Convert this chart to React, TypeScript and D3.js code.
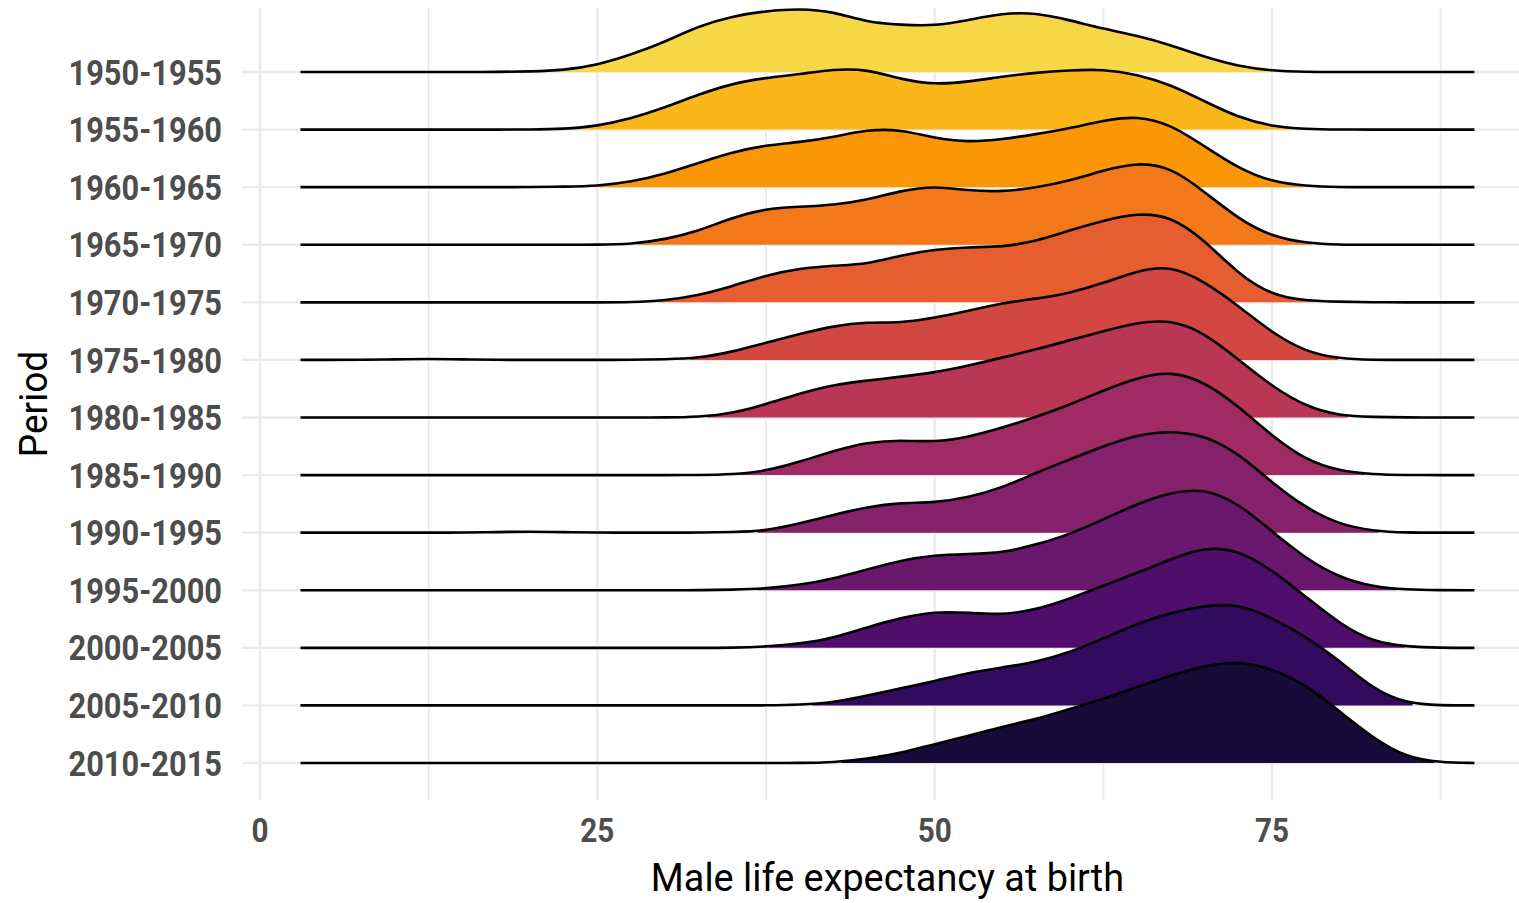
import React from "react";
import * as d3 from "d3";

// periods, top to bottom
const periods = [
  "1950-1955", "1955-1960", "1960-1965", "1965-1970", "1970-1975",
  "1975-1980", "1980-1985", "1985-1990", "1990-1995", "1995-2000",
  "2000-2005", "2005-2010", "2010-2015",
];

// ages at which the ridge heights were read (years)
const ages = [
  3, 5, 7.5, 10, 12.5, 15, 17.5, 20, 22.5, 25, 27.5, 30, 32.5, 35, 37.5, 40, 42.5, 45,
  47.5, 50, 52.5, 55, 57.5, 60, 62.5, 65, 67.5, 70, 72.5, 75, 77.5, 80, 82.5, 85, 87.5, 90,
];

// ridge heights (1 = one row of the plot)
const r1950 = [0, 0, 0, 0, 0, 0, 0, 0.01, 0.03, 0.12, 0.3, 0.52, 0.8, 0.97, 1.06, 1.1, 1.05, 0.86, 0.82, 0.8, 0.9, 1.02, 1.03, 0.9, 0.75, 0.63, 0.47, 0.26, 0.1, 0.02, 0, 0, 0, 0, 0, 0];
const r1955 = [0, 0, 0, 0, 0, 0, 0, 0, 0.01, 0.06, 0.19, 0.38, 0.61, 0.8, 0.9, 0.96, 1.05, 1.05, 0.87, 0.78, 0.83, 0.92, 0.99, 1.03, 1.05, 0.96, 0.78, 0.49, 0.21, 0.05, 0.01, 0, 0, 0, 0, 0];
const r1960 = [0, 0, 0, 0, 0, 0, 0, 0, 0.01, 0.02, 0.09, 0.23, 0.42, 0.61, 0.73, 0.78, 0.87, 1.0, 1.0, 0.85, 0.78, 0.83, 0.92, 1.02, 1.16, 1.24, 1.09, 0.71, 0.33, 0.09, 0.02, 0, 0, 0, 0, 0];
const r1965 = [0, 0, 0, 0, 0, 0, 0, 0, 0, 0, 0.01, 0.09, 0.24, 0.47, 0.63, 0.66, 0.69, 0.78, 0.94, 1.02, 0.94, 0.92, 0.99, 1.11, 1.29, 1.43, 1.35, 0.92, 0.45, 0.14, 0.03, 0, 0, 0, 0, 0];
const r1970 = [0, 0, 0, 0, 0, 0, 0, 0, 0, 0, 0, 0.03, 0.12, 0.28, 0.47, 0.59, 0.64, 0.66, 0.82, 0.92, 0.96, 0.96, 1.06, 1.25, 1.42, 1.55, 1.5, 1.08, 0.49, 0.12, 0.03, 0.01, 0, 0, 0, 0];
const r1975 = [0, 0, 0, 0.01, 0.02, 0.01, 0, 0, 0, 0, 0, 0.01, 0.03, 0.14, 0.3, 0.45, 0.59, 0.66, 0.64, 0.73, 0.85, 0.99, 1.06, 1.16, 1.33, 1.55, 1.64, 1.36, 0.94, 0.47, 0.14, 0.02, 0, 0, 0, 0];
const r1980 = [0, 0, 0, 0, 0, 0, 0, 0, 0, 0, 0, 0, 0.01, 0.07, 0.23, 0.42, 0.57, 0.64, 0.71, 0.78, 0.9, 1.04, 1.18, 1.34, 1.5, 1.65, 1.7, 1.47, 1.01, 0.54, 0.19, 0.03, 0.01, 0, 0, 0];
const r1985 = [0, 0, 0, 0, 0, 0, 0, 0, 0, 0, 0, 0, 0, 0.01, 0.07, 0.23, 0.42, 0.57, 0.61, 0.57, 0.66, 0.82, 1.01, 1.22, 1.47, 1.69, 1.81, 1.62, 1.2, 0.68, 0.26, 0.07, 0.01, 0, 0, 0];
const r1990 = [0, 0, 0, 0, 0, 0, 0.01, 0.02, 0.01, 0, 0, 0, 0, 0.01, 0.03, 0.16, 0.31, 0.45, 0.52, 0.52, 0.61, 0.78, 1.04, 1.27, 1.5, 1.7, 1.77, 1.69, 1.38, 0.87, 0.43, 0.14, 0.03, 0, 0, 0];
const r1995 = [0, 0, 0, 0, 0, 0, 0, 0, 0, 0, 0, 0, 0, 0.01, 0.03, 0.09, 0.2, 0.36, 0.52, 0.61, 0.63, 0.65, 0.79, 0.97, 1.23, 1.5, 1.7, 1.77, 1.51, 1.02, 0.55, 0.22, 0.06, 0.01, 0, 0];
const r2000 = [0, 0, 0, 0, 0, 0, 0, 0, 0, 0, 0, 0, 0, 0, 0.02, 0.07, 0.17, 0.36, 0.52, 0.63, 0.61, 0.57, 0.66, 0.85, 1.08, 1.3, 1.54, 1.75, 1.7, 1.35, 0.89, 0.42, 0.1, 0.02, 0, 0];
const r2005 = [0, 0, 0, 0, 0, 0, 0, 0, 0, 0, 0, 0, 0, 0, 0, 0.01, 0.05, 0.17, 0.3, 0.42, 0.57, 0.66, 0.75, 0.92, 1.16, 1.42, 1.61, 1.73, 1.77, 1.52, 1.2, 0.78, 0.28, 0.03, 0, 0];
const r2010 = [0, 0, 0, 0, 0, 0, 0, 0, 0, 0, 0, 0, 0, 0, 0, 0, 0.01, 0.07, 0.17, 0.33, 0.47, 0.63, 0.76, 0.94, 1.11, 1.32, 1.52, 1.69, 1.77, 1.64, 1.36, 0.9, 0.43, 0.09, 0.01, 0];

const ridges = [r1950, r1955, r1960, r1965, r1970, r1975, r1980, r1985, r1990, r1995, r2000, r2005, r2010];

const xTicks = [0, 25, 50, 75];
const xMinorTicks = [12.5, 37.5, 62.5, 87.5];

const W = 1519;
const H = 903;
const gridColor = "#ebebeb";
const labelColor = "#4d4d4d";

// fill is cut where the ridge is lower than this (rel_min_height style)
const minHeight = 0.025;

// first / last age where the ridge rises above minHeight (linear crossing)
function fillRange(vals: number[]): [number, number] {
  const first = vals.findIndex((v) => v > minHeight);
  let last = -1;
  for (let j = vals.length - 1; j >= 0; j--) {
    if (vals[j] > minHeight) { last = j; break; }
  }
  const cross = (below: number, above: number) => {
    const t = (minHeight - vals[below]) / (vals[above] - vals[below]);
    return ages[below] + t * (ages[above] - ages[below]);
  };
  const lo = first > 0 ? cross(first - 1, first) : ages[0];
  const hi = last < vals.length - 1 ? cross(last + 1, last) : ages[ages.length - 1];
  return [lo, hi];
}

export default function App() {
  // x: 0 -> 260px, 75 -> 1272px ; panel padded like ggplot (5% of 3..90)
  const x = d3.scaleLinear().domain([0, 75]).range([260, 1272]);
  const panelLeft = x(-1.35);
  const panelRight = x(94.35);
  const panelTop = 8;
  const panelBottom = 800;

  const y = d3.scalePoint<string>().domain(periods).range([72, 763]);
  const h = d3.scaleLinear().domain([0, 1]).range([0, y.step()]);

  const color = (i: number) => d3.interpolateInferno(0.9 - (i * 0.8) / (periods.length - 1));

  return (
    <svg
      width={W}
      height={H}
      style={{ position: "absolute", left: 0, top: 0, background: "#fff" }}
      fontFamily="Roboto, 'Noto Sans', sans-serif"
    >
      <defs>
        {periods.map((p, i) => {
          const [lo, hi] = fillRange(ridges[i]);
          const base = y(p) as number;
          return (
            <clipPath id={"clip" + i} key={"c" + p}>
              <rect x={x(lo)} y={0} width={x(hi) - x(lo)} height={base + 1} />
            </clipPath>
          );
        })}
      </defs>

      {/* grid */}
      <g>
        {xMinorTicks.map((t) => (
          <line key={"mn" + t} x1={x(t)} x2={x(t)} y1={panelTop} y2={panelBottom} stroke={gridColor} strokeWidth={1.8} />
        ))}
        {xTicks.map((t) => (
          <line key={"mj" + t} x1={x(t)} x2={x(t)} y1={panelTop} y2={panelBottom} stroke={gridColor} strokeWidth={2.4} />
        ))}
        {periods.map((p) => (
          <line key={"hg" + p} x1={panelLeft} x2={panelRight} y1={y(p)} y2={y(p)} stroke={gridColor} strokeWidth={2.4} />
        ))}
      </g>

      {/* ridges, top row first so lower rows sit in front */}
      {periods.map((p, i) => {
        const base = y(p) as number;
        const vals = ridges[i];
        const area = d3
          .area<number>()
          .x((_, j) => x(ages[j]))
          .y0(base)
          .y1((d) => base - h(d))
          .curve(d3.curveBasis);
        const line = d3
          .line<number>()
          .x((_, j) => x(ages[j]))
          .y((d) => base - h(d))
          .curve(d3.curveBasis);
        return (
          <g key={p}>
            <path d={area(vals) || ""} fill={color(i)} stroke="none" clipPath={`url(#clip${i})`} />
            <path d={line(vals) || ""} fill="none" stroke="#000" strokeWidth={2.6} strokeLinejoin="round" />
          </g>
        );
      })}

      {/* y axis labels */}
      {periods.map((p) => (
        <g key={"yl" + p} transform={`translate(222,${y(p)}) scale(0.88,1)`}>
          <text textAnchor="end" dy="0.36em" fontSize={35} fontWeight={700} fill={labelColor}>
            {p}
          </text>
        </g>
      ))}

      {/* x axis labels */}
      {xTicks.map((t) => (
        <g key={"xl" + t} transform={`translate(${x(t)},842) scale(0.9,1)`}>
          <text textAnchor="middle" fontSize={33} fontWeight={700} fill={labelColor}>
            {t}
          </text>
        </g>
      ))}

      {/* axis titles */}
      <g transform={`translate(${(panelLeft + panelRight) / 2},891) scale(0.97,1)`}>
        <text textAnchor="middle" fontSize={39} fill="#000">
          Male life expectancy at birth
        </text>
      </g>
      <g transform={`translate(47,${(panelTop + panelBottom) / 2}) rotate(-90) scale(0.95,1)`}>
        <text textAnchor="middle" fontSize={39} fill="#000">
          Period
        </text>
      </g>
    </svg>
  );
}
